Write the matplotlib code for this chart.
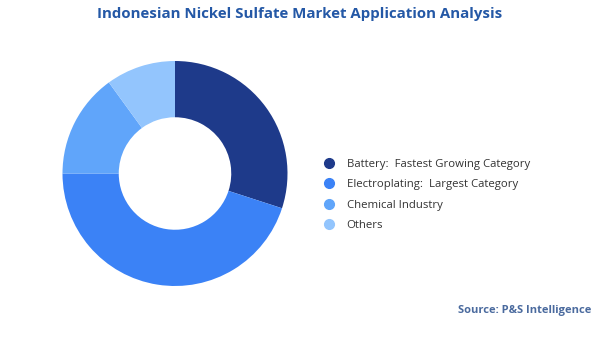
import matplotlib
matplotlib.use("Agg")
import matplotlib.pyplot as plt
from matplotlib.lines import Line2D

categories = ["Battery", "Electroplating", "Chemical Industry", "Others"]
legend_labels = ["Battery:  Fastest Growing Category", "Electroplating:  Largest Category",
                 "Chemical Industry", "Others"]
shares = [30, 45, 15, 10]
colors = ["#1e3a8a", "#3b82f6", "#60a5fa", "#93c5fd"]

plt.rcParams['font.family'] = ['Open Sans', 'DejaVu Sans']

W, H = 600, 337
fig = plt.figure(figsize=(W / 100, H / 100), dpi=100)
fig.patch.set_facecolor("white")

cx, cy, r = 175, 173.5, 112.5
ax = fig.add_axes([(cx - r) / W, (H - cy - r) / H, 2 * r / W, 2 * r / H])
ax.pie(shares, colors=colors, startangle=90, counterclock=False, radius=1,
       wedgeprops=dict(width=0.5, edgecolor="none"))
ax.set_xlim(-1, 1)
ax.set_ylim(-1, 1)
ax.set_aspect("equal")
ax.axis("off")

fig.text(300 / W, 1 - 14 / H, "Indonesian Nickel Sulfate Market Application Analysis",
         ha="center", va="center", fontsize=10.8, fontweight="bold", color="#2458a6")

handles = [Line2D([0], [0], marker="o", linestyle="none", markersize=7,
                  markerfacecolor=c, markeredgecolor=c) for c in colors]
leg = fig.legend(handles, legend_labels, loc="center left",
                 bbox_to_anchor=(312 / W, 1 - 195 / H), frameon=False,
                 fontsize=8.2, labelspacing=0.8, handletextpad=0.95, handlelength=1.2,
                 labelcolor="#333333")

fig.text(591 / W, 1 - 310 / H, "Source: P&S Intelligence", ha="right", va="center",
         fontsize=8.0, fontweight="bold", color="#4a6a9e")

fig.savefig("out.png", dpi=100, facecolor="white")
